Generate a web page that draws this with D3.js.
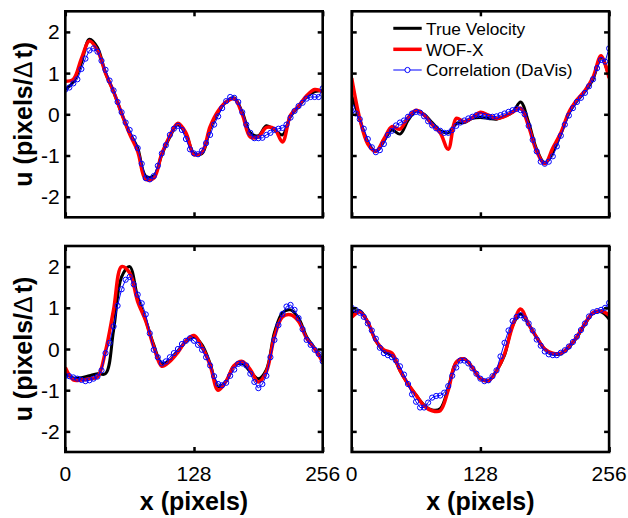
<!DOCTYPE html>
<html>
<head>
<meta charset="utf-8">
<script src="https://cdn.jsdelivr.net/npm/d3@7"></script>
<style>
  html, body { margin: 0; padding: 0; background: #fff; }
  svg { display: block; }
  text { font-family: "Liberation Sans", Arial, Helvetica, sans-serif; }
</style>
</head>
<body>
<svg id="chart" width="628" height="518"></svg>
<script>
// ---------- data ----------
const xLine = [0,8,16,24,32,40,48,56,64,72,80,88,96,104,112,120,128,136,144,152,160,168,176,184,192,200,208,216,224,232,240,248,256];
const xDavis = [0,4,8,12,16,20,24,28,32,36,40,44,48,52,56,60,64,68,72,76,80,84,88,92,96,100,104,108,112,116,120,124,128,
  132,136,140,144,148,152,156,160,164,168,172,176,180,184,188,192,196,200,204,208,212,216,220,224,228,232,236,240,244,248,252,256];

const xTicks = [0, 128, 256];
const yTicks = [-2, -1, 0, 1, 2];
const seriesNames = ["True Velocity", "WOF-X", "Correlation (DaVis)"];

// top-left
const tlTrue = [0.6,0.78,1.25,1.82,1.62,1.0,0.55,0.02,-0.45,-0.82,-1.5,-1.5,-0.98,-0.55,-0.24,-0.48,-0.95,-0.95,-0.35,0.05,0.3,0.4,0.05,-0.45,-0.52,-0.28,-0.38,-0.5,-0.05,0.18,0.42,0.55,0.58];
const tlWof  = [0.8,0.85,1.35,1.78,1.55,1.0,0.55,0.02,-0.48,-0.9,-1.58,-1.55,-0.95,-0.52,-0.22,-0.45,-0.98,-0.92,-0.3,0.08,0.3,0.38,0.0,-0.55,-0.55,-0.32,-0.35,-0.67,-0.02,0.2,0.45,0.6,0.55];
const tlDavis = [0.6,0.65,0.75,0.85,1.1,1.35,1.55,1.6,1.52,1.3,1.08,0.82,0.58,0.3,0.05,-0.2,-0.38,-0.57,-0.82,-1.2,-1.55,-1.58,-1.5,-1.25,-0.95,-0.75,-0.5,-0.35,-0.28,-0.38,-0.6,-0.85,-0.95,
  -0.97,-0.88,-0.7,-0.5,-0.25,-0.05,0.15,0.32,0.42,0.4,0.3,0.05,-0.25,-0.45,-0.58,-0.58,-0.57,-0.5,-0.45,-0.38,-0.35,-0.33,-0.25,-0.08,0.08,0.2,0.28,0.38,0.42,0.42,0.42,0.63];

// top-right
const trTrue = [0.45,-0.12,-0.68,-0.9,-0.65,-0.38,-0.48,-0.15,0.08,0.0,-0.2,-0.4,-0.45,-0.22,-0.2,-0.1,-0.08,-0.1,-0.12,-0.05,0.05,0.3,-0.2,-0.85,-1.18,-0.92,-0.48,0.02,0.32,0.55,0.85,1.38,0.92];
const trWof  = [0.88,-0.1,-0.72,-0.9,-0.6,-0.3,-0.36,-0.08,0.1,-0.02,-0.25,-0.45,-0.85,-0.1,-0.18,-0.08,0.05,-0.02,-0.1,-0.05,0.05,0.15,-0.3,-0.9,-1.2,-0.82,-0.45,0.05,0.35,0.58,0.9,1.42,0.88];
const trDavis = [0.17,0.02,-0.12,-0.35,-0.6,-0.8,-0.92,-0.87,-0.72,-0.5,-0.4,-0.27,-0.2,-0.15,-0.06,0.02,0.06,0.04,-0.05,-0.17,-0.27,-0.34,-0.4,-0.45,-0.45,-0.38,-0.28,-0.2,-0.15,-0.1,-0.06,-0.02,-0.02,
  -0.04,-0.06,-0.06,-0.05,-0.02,0.02,0.06,0.1,0.13,0.1,0.0,-0.28,-0.62,-0.9,-1.15,-1.2,-1.15,-1.02,-0.78,-0.52,-0.25,-0.03,0.15,0.3,0.4,0.52,0.68,0.85,1.12,1.32,1.28,1.6];

// bottom-left
const blTrue = [-0.6,-0.7,-0.7,-0.65,-0.6,-0.6,0.45,1.75,2.0,1.25,0.7,0.1,-0.35,-0.28,-0.05,0.18,0.3,0.1,-0.35,-0.92,-0.78,-0.4,-0.35,-0.55,-0.72,-0.5,0.4,0.88,0.95,0.75,0.3,0.02,-0.27];
const blWof  = [-0.45,-0.75,-0.75,-0.72,-0.68,-0.05,0.95,2.0,1.85,1.15,0.68,0.05,-0.42,-0.3,-0.08,0.2,0.33,0.05,-0.39,-1.0,-0.78,-0.4,-0.3,-0.5,-0.8,-0.55,0.3,0.78,0.83,0.67,0.26,0.0,-0.31];
const blDavis = [-0.65,-0.66,-0.69,-0.72,-0.75,-0.78,-0.76,-0.72,-0.67,-0.52,-0.1,0.15,0.55,1.05,1.45,1.68,1.75,1.57,1.32,1.11,0.84,0.38,-0.02,-0.2,-0.35,-0.3,-0.2,-0.1,0.0,0.12,0.2,0.26,0.2,
  0.1,-0.02,-0.2,-0.4,-0.66,-0.85,-0.88,-0.82,-0.65,-0.5,-0.36,-0.35,-0.4,-0.6,-0.8,-0.95,-0.85,-0.65,-0.2,0.22,0.58,0.85,1.03,1.07,0.95,0.75,0.48,0.22,0.1,-0.02,-0.12,-0.3];

// bottom-right
const brTrue = [0.85,0.93,0.65,0.2,-0.05,-0.15,-0.52,-0.85,-1.12,-1.36,-1.48,-1.45,-0.95,-0.32,-0.24,-0.45,-0.72,-0.77,-0.53,-0.15,0.57,0.85,0.6,0.28,0.0,-0.12,-0.12,0.04,0.28,0.6,0.87,0.9,0.73];
const brWof  = [0.77,0.9,0.65,0.2,-0.02,-0.1,-0.52,-0.85,-1.12,-1.38,-1.5,-1.5,-1.0,-0.32,-0.24,-0.45,-0.72,-0.77,-0.53,-0.12,0.55,0.97,0.6,0.28,0.0,-0.1,-0.1,0.06,0.3,0.62,0.88,0.92,0.82];
const brDavis = [1.0,0.95,0.88,0.78,0.62,0.45,0.25,0.03,-0.1,-0.15,-0.2,-0.28,-0.42,-0.62,-0.85,-1.1,-1.28,-1.42,-1.42,-1.3,-1.18,-1.14,-1.13,-1.06,-0.9,-0.65,-0.45,-0.28,-0.28,-0.35,-0.47,-0.6,-0.72,
  -0.78,-0.76,-0.66,-0.52,-0.18,0.15,0.45,0.68,0.78,0.82,0.74,0.62,0.45,0.23,0.08,-0.06,-0.13,-0.15,-0.15,-0.09,-0.03,0.06,0.17,0.3,0.46,0.62,0.79,0.89,0.92,0.95,1.0,1.12];

const panels = [
  { col: 0, row: 0, t: tlTrue, w: tlWof, d: tlDavis },
  { col: 1, row: 0, t: trTrue, w: trWof, d: trDavis },
  { col: 0, row: 1, t: blTrue, w: blWof, d: blDavis },
  { col: 1, row: 1, t: brTrue, w: brWof, d: brDavis }
];

// ---------- layout ----------
const colLeft = [65.3, 351.7];
const rowTop = [11.3, 246];
const pw = 257.4, ph = 206;
const tickLen = 5;

const svg = d3.select("#chart");
const defs = svg.append("defs");

panels.forEach((p, i) => {
  const x0 = colLeft[p.col], y0 = rowTop[p.row];
  const x = d3.scaleLinear().domain([0, 256]).range([x0, x0 + pw]);
  const y = d3.scaleLinear().domain([-2.5, 2.5]).range([y0 + ph, y0]);

  defs.append("clipPath").attr("id", "clip" + i)
    .append("rect").attr("x", x0).attr("y", y0).attr("width", pw).attr("height", ph);

  const g = svg.append("g");
  const plot = g.append("g").attr("clip-path", `url(#clip${i})`);

  const smooth = d3.line().x((d, k) => x(xLine[k])).y(d => y(d)).curve(d3.curveCatmullRom.alpha(0.5));
  const straight = d3.line().x((d, k) => x(xDavis[k])).y(d => y(d));

  plot.append("path").attr("d", smooth(p.t)).attr("fill", "none")
    .attr("stroke", "#000").attr("stroke-width", 3).attr("stroke-linejoin", "round");
  plot.append("path").attr("d", smooth(p.w)).attr("fill", "none")
    .attr("stroke", "#ff0000").attr("stroke-width", 3.5).attr("stroke-linejoin", "round");
  plot.append("path").attr("d", straight(p.d)).attr("fill", "none")
    .attr("stroke", "#0000ff").attr("stroke-width", 1);
  plot.selectAll("circle.m").data(p.d).enter().append("circle")
    .attr("cx", (d, k) => x(xDavis[k])).attr("cy", d => y(d)).attr("r", 2.6)
    .attr("fill", "none").attr("stroke", "#0000ff").attr("stroke-width", 1);

  // axes via d3 axis generators (inward ticks)
  const axL = g.append("g").attr("transform", `translate(${x0},0)`)
    .call(d3.axisRight(y).tickValues(yTicks).tickSize(tickLen).tickFormat(""));
  const axR = g.append("g").attr("transform", `translate(${x0 + pw},0)`)
    .call(d3.axisLeft(y).tickValues(yTicks).tickSize(tickLen).tickFormat(""));
  const axT = g.append("g").attr("transform", `translate(0,${y0})`)
    .call(d3.axisBottom(x).tickValues(xTicks).tickSize(tickLen).tickFormat(""));
  const axB = g.append("g").attr("transform", `translate(0,${y0 + ph})`)
    .call(d3.axisTop(x).tickValues(xTicks).tickSize(tickLen).tickFormat(""));
  [axL, axR, axT, axB].forEach(a => {
    a.select(".domain").remove();
    a.selectAll(".tick line").attr("stroke", "#000").attr("stroke-width", 2.5);
  });

  g.append("rect").attr("x", x0).attr("y", y0).attr("width", pw).attr("height", ph)
    .attr("fill", "none").attr("stroke", "#000").attr("stroke-width", 2.6);

  // tick labels
  if (p.col === 0) {
    g.selectAll("text.yt").data(yTicks).enter().append("text")
      .attr("x", x0 - 5.5).attr("y", d => y(d) + 7.5)
      .attr("text-anchor", "end").attr("font-size", 21).text(d => d);
    g.append("text")
      .attr("transform", `translate(32,${y0 + ph / 2}) rotate(-90)`)
      .attr("text-anchor", "middle").attr("font-size", 25).attr("font-weight", "bold")
      .call(t => {
        t.append("tspan").text("u (pixels/");
        t.append("tspan").attr("font-weight", "normal").text("\u0394");
        t.append("tspan").attr("dx", 3).text("t)");
      });
  }
  if (p.row === 1) {
    g.selectAll("text.xt").data(xTicks).enter().append("text")
      .attr("x", d => x(d)).attr("y", y0 + ph + 29)
      .attr("text-anchor", "middle").attr("font-size", 21).text(d => d);
    g.append("text").attr("x", x0 + pw / 2).attr("y", 510)
      .attr("text-anchor", "middle").attr("font-size", 25).attr("font-weight", "bold")
      .text("x (pixels)");
  }
});

// ---------- legend ----------
const legY = [28.3, 49.3, 70];
const leg = svg.append("g");
const lx1 = 393.3, lx2 = 421.7;
leg.append("line").attr("x1", lx1).attr("x2", lx2).attr("y1", legY[0]).attr("y2", legY[0])
  .attr("stroke", "#000").attr("stroke-width", 3);
leg.append("line").attr("x1", lx1).attr("x2", lx2).attr("y1", legY[1]).attr("y2", legY[1])
  .attr("stroke", "#ff0000").attr("stroke-width", 3.5);
leg.append("line").attr("x1", lx1).attr("x2", lx2).attr("y1", legY[2]).attr("y2", legY[2])
  .attr("stroke", "#0000ff").attr("stroke-width", 1);
leg.append("circle").attr("cx", (lx1 + lx2) / 2).attr("cy", legY[2]).attr("r", 2.6)
  .attr("fill", "#fff").attr("stroke", "#0000ff").attr("stroke-width", 1);
leg.selectAll("text").data(seriesNames).enter().append("text")
  .attr("x", 426).attr("y", (d, i) => legY[i] + 6.2)
  .attr("font-size", 17.3).text(d => d);
</script>
</body>
</html>
